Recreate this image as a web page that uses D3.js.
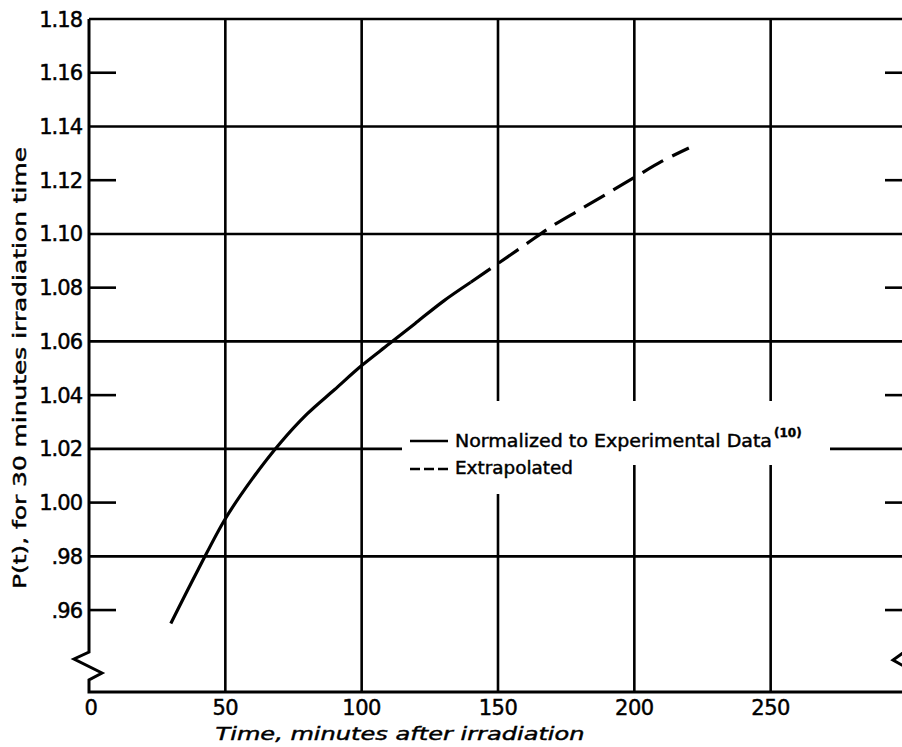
<!DOCTYPE html>
<html>
<head>
<meta charset="utf-8">
<script src="https://cdn.jsdelivr.net/npm/d3@7"></script>
<style>
  body { margin: 0; background: #fff; }
  text { font-family: "DejaVu Sans", sans-serif; fill: #000; stroke: #000; stroke-width: 0.45px; }
</style>
</head>
<body>
<div id="chart"></div>
<script>
// curve
const timeSolid = [30, 40, 50, 60, 70, 80, 90, 100, 110, 120, 130, 140];
const valueSolid = [0.955, 0.975, 0.994, 1.009, 1.022, 1.033, 1.042, 1.051, 1.059, 1.067, 1.075, 1.082];
const timeDashed = [140, 150, 160, 170, 180, 190, 200, 210, 220];
const valueDashed = [1.082, 1.089, 1.096, 1.103, 1.109, 1.115, 1.121, 1.127, 1.132];

const xTicks = [0, 50, 100, 150, 200, 250];
const yTicks = [0.96, 0.98, 1.00, 1.02, 1.04, 1.06, 1.08, 1.10, 1.12, 1.14, 1.16, 1.18];
const yGrid = [0.98, 1.02, 1.06, 1.10, 1.14, 1.18];
const yShort = [0.96, 1.00, 1.04, 1.08, 1.12, 1.16];
const legendLabels = ["Normalized to Experimental Data", "Extrapolated"];

function main() {
    const canvasWidth = 902;
    const canvasHeight = 747;

    const svg = d3.select("#chart").append("svg")
        .attr("width", canvasWidth)
        .attr("height", canvasHeight)

    const xScale = d3.scaleLinear().domain([0, 300]).range([89, 907]);
    const yScale = d3.scaleLinear().domain([0.9295, 1.18]).range([692, 19]);

    const x0 = xScale(0), x1 = xScale(300);
    const yb = yScale.range()[0];
    const fmt = (v) => v >= 1 ? v.toFixed(2) : v.toFixed(2).replace(/^0/, "");

    // horizontal grid lines
    svg.append("g").selectAll("line")
        .data(yGrid)
        .enter().append("line")
        .attr("x1", x0).attr("x2", x1)
        .attr("y1", d => yScale(d)).attr("y2", d => yScale(d))
        .attr("stroke", "black").attr("stroke-width", 2.6)

    // vertical grid lines
    svg.append("g").selectAll("line")
        .data(xTicks.filter(d => d > 0))
        .enter().append("line")
        .attr("x1", d => xScale(d)).attr("x2", d => xScale(d))
        .attr("y1", yScale(1.18)).attr("y2", yb)
        .attr("stroke", "black").attr("stroke-width", 2.6)

    // short ticks on left and right side
    svg.append("g").selectAll("line")
        .data(yShort)
        .enter().append("line")
        .attr("x1", x0).attr("x2", x0 + 27)
        .attr("y1", d => yScale(d)).attr("y2", d => yScale(d))
        .attr("stroke", "black").attr("stroke-width", 2.6)
    svg.append("g").selectAll("line")
        .data(yShort)
        .enter().append("line")
        .attr("x1", x1 - 22).attr("x2", x1)
        .attr("y1", d => yScale(d)).attr("y2", d => yScale(d))
        .attr("stroke", "black").attr("stroke-width", 2.6)

    // legend area clears the grid
    const lx = 402;
    svg.append("rect").attr("x", lx).attr("y", 401).attr("width", 428).attr("height", 64).attr("fill", "white")
    svg.append("rect").attr("x", lx).attr("y", 465).attr("width", 178).attr("height", 29).attr("fill", "white")

    // axes with the break
    const yBreak = yb - 40;
    const leftAxis = [[x0, yScale(1.18)], [x0, yBreak], [x0 - 15, yBreak + 7], [x0 + 13, yBreak + 21], [x0, yBreak + 28], [x0, yb], [x1, yb]];
    svg.append("path")
        .attr("d", d3.line()(leftAxis))
        .attr("fill", "none").attr("stroke", "black").attr("stroke-width", 3)
    const rightAxis = [[x1, yScale(1.18)], [x1, yBreak - 2], [x1 - 14, yBreak + 8], [x1, yBreak + 16], [x1, yb]];
    svg.append("path")
        .attr("d", d3.line()(rightAxis))
        .attr("fill", "none").attr("stroke", "black").attr("stroke-width", 3)

    // tick labels
    svg.append("g").selectAll("text")
        .data(yTicks)
        .enter().append("text")
        .attr("x", x0 - 7)
        .attr("y", d => yScale(d))
        .attr("dy", "0.36em")
        .attr("text-anchor", "end")
        .attr("font-size", "21px")
        .attr("letter-spacing", "-1")
        .text(d => fmt(d))

    svg.append("g").selectAll("text")
        .data(xTicks)
        .enter().append("text")
        .attr("x", d => xScale(d) + (d === 0 ? 2 : 0))
        .attr("y", yb + 23)
        .attr("text-anchor", "middle")
        .attr("font-size", "21px")
        .attr("letter-spacing", "-0.5")
        .text(d => d)

    // axis titles
    svg.append("text")
        .attr("x", 400).attr("y", 740)
        .attr("text-anchor", "middle")
        .attr("font-size", "18px")
        .attr("font-style", "italic")
        .attr("textLength", 369)
        .attr("lengthAdjust", "spacingAndGlyphs")
        .text("Time, minutes after irradiation")

    svg.append("text")
        .attr("transform", "translate(26,368) rotate(-90)")
        .attr("text-anchor", "middle")
        .attr("font-size", "18px")
        .attr("textLength", 442)
        .attr("lengthAdjust", "spacingAndGlyphs")
        .text("P(t), for 30 minutes irradiation time")

    // the curve
    const line = d3.line()
        .x(d => xScale(d[0]))
        .y(d => yScale(d[1]))
        .curve(d3.curveCatmullRom.alpha(0.5))

    svg.append("path")
        .datum(timeSolid.map((t, i) => [t, valueSolid[i]]))
        .attr("d", line)
        .attr("fill", "none").attr("stroke", "black").attr("stroke-width", 3.2)

    svg.append("path")
        .datum(timeDashed.map((t, i) => [t, valueDashed[i]]))
        .attr("d", line)
        .attr("fill", "none").attr("stroke", "black").attr("stroke-width", 3.2)
        .attr("stroke-dasharray", "24,10")

    // legend
    const legend = svg.append("g")
    legend.append("line")
        .attr("x1", 410).attr("x2", 448).attr("y1", 441).attr("y2", 441)
        .attr("stroke", "black").attr("stroke-width", 2.4)
    legend.append("line")
        .attr("x1", 410).attr("x2", 448).attr("y1", 469).attr("y2", 469)
        .attr("stroke", "black").attr("stroke-width", 2.4)
        .attr("stroke-dasharray", "10,4")
    legend.append("text")
        .attr("x", 455).attr("y", 447)
        .attr("font-size", "18px")
        .attr("textLength", 317)
        .attr("lengthAdjust", "spacingAndGlyphs")
        .text(legendLabels[0])
    legend.append("text")
        .attr("x", 774).attr("y", 437)
        .attr("font-size", "12px")
        .attr("font-weight", "bold")
        .text("(10)")
    legend.append("text")
        .attr("x", 455).attr("y", 474)
        .attr("font-size", "18px")
        .attr("textLength", 118)
        .attr("lengthAdjust", "spacingAndGlyphs")
        .text(legendLabels[1])
}
main();
</script>
</body>
</html>
